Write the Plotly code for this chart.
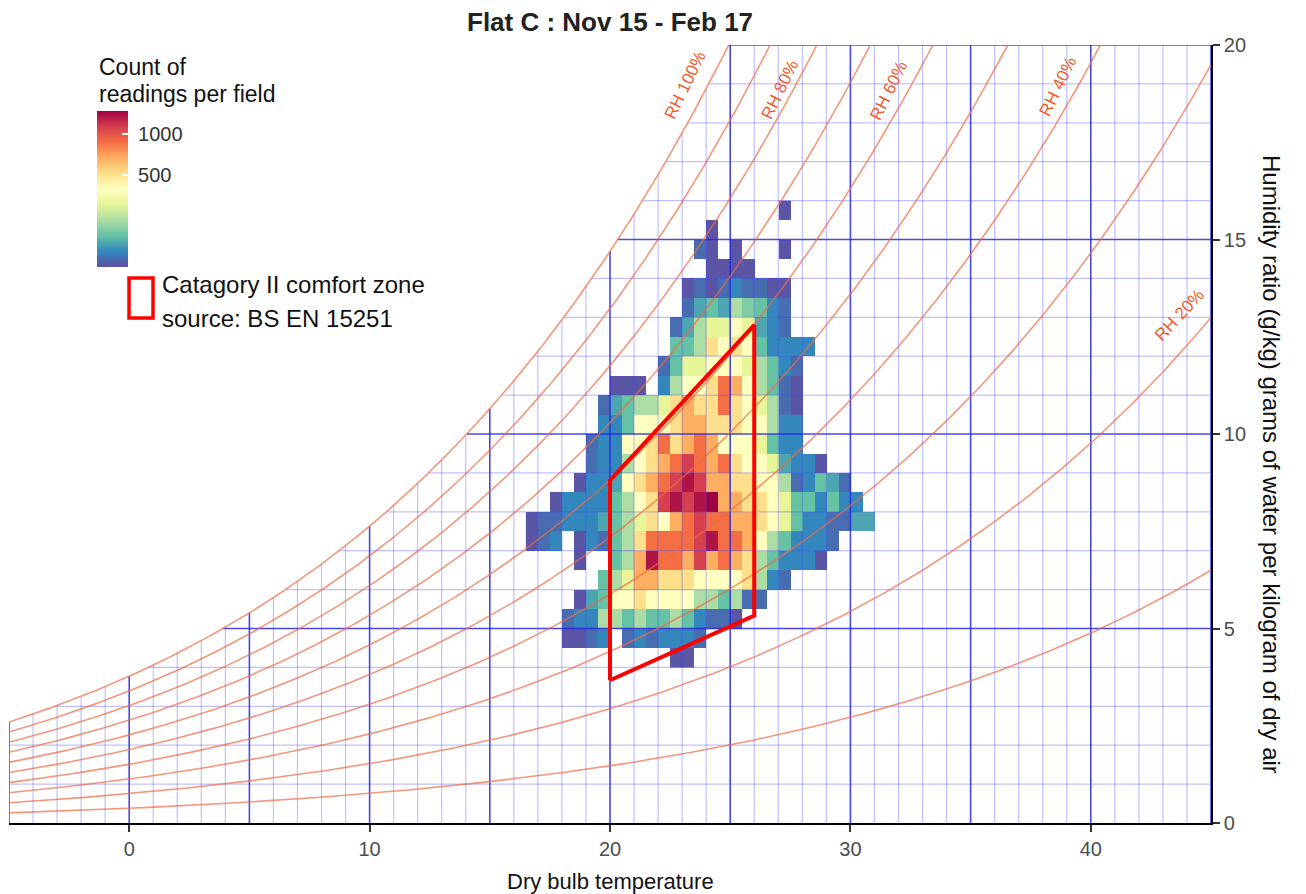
import numpy as np
import plotly.graph_objects as go

# ------------------------------------------------------------------ data
title_text = "Flat C : Nov 15 - Feb 17"

# bin centres (0.5 degC x 0.5 g/kg bins)
temp_bins = [16.75, 17.25, 17.75, 18.25, 18.75, 19.25, 19.75, 20.25, 20.75, 21.25,
             21.75, 22.25, 22.75, 23.25, 23.75, 24.25, 24.75, 25.25, 25.75, 26.25,
             26.75, 27.25, 27.75, 28.25, 28.75, 29.25, 29.75, 30.25, 30.75]
ratio_bins = [4.25, 4.75, 5.25, 5.75, 6.25, 6.75, 7.25, 7.75, 8.25, 8.75, 9.25, 9.75,
              10.25, 10.75, 11.25, 11.75, 12.25, 12.75, 13.25, 13.75, 14.25, 14.75,
              15.25, 15.75]

_ = None
# count of readings per field, one list per humidity-ratio bin
w4_0 = [_,_,_,_,_,_,_,_,_,_,_,_,4,4,_,_,_,_,_,_,_,_,_,_,_,_,_,_,_]
w4_5 = [_,_,_,4,4,12,26,_,12,26,12,26,26,26,12,_,_,_,_,_,_,_,_,_,_,_,_,_,_]
w5_0 = [_,_,_,12,26,26,150,150,75,150,75,75,150,75,26,12,12,4,_,_,_,_,_,_,_,_,_,_,_]
w5_5 = [_,_,_,_,4,48,75,370,370,520,370,370,370,370,150,150,75,150,12,12,_,_,_,_,_,_,_,_,_]
w6_0 = [_,_,_,_,_,_,75,150,248,690,690,520,520,520,370,370,370,370,520,150,26,12,_,_,_,_,_,_,_]
w6_5 = [_,_,_,_,4,_,_,75,150,690,1280,885,885,690,1105,690,885,690,520,150,75,26,26,26,4,_,_,_,_]
w7_0 = [4,12,26,_,4,26,12,75,150,520,885,885,885,885,1105,1280,885,885,690,370,150,75,26,26,26,12,_,_,_]
w7_5 = [4,12,12,26,26,26,48,75,150,248,520,370,690,885,1105,885,885,690,690,520,370,248,75,26,26,12,12,48,48]
w8_0 = [_,_,4,26,26,26,26,75,150,370,520,1105,1280,1105,1280,1358,690,690,520,520,370,248,75,75,26,75,26,26,_]
w8_5 = [_,_,_,_,4,26,26,48,370,520,690,885,1105,1280,1105,690,690,520,520,370,370,150,12,26,75,48,12,_,_]
w9_0 = [_,_,_,_,_,12,26,26,150,370,520,690,885,1105,885,690,885,520,370,370,248,48,26,26,4,_,_,_,_]
w9_5 = [_,_,_,_,_,12,26,26,370,370,520,885,520,690,885,690,370,370,370,248,75,26,26,_,_,_,_,_,_]
w10_0 = [_,_,_,_,_,_,26,26,75,370,370,370,520,690,690,520,520,520,370,370,150,26,26,_,_,_,_,_,_]
w10_5 = [_,_,_,_,_,_,12,48,75,150,150,248,520,690,520,520,885,520,370,248,150,12,4,_,_,_,_,_,_]
w11_0 = [_,_,_,_,_,_,_,4,4,4,_,26,150,370,370,520,885,690,370,150,75,12,4,_,_,_,_,_,_]
w11_5 = [_,_,_,_,_,_,_,_,_,_,_,12,75,248,248,370,370,370,248,150,75,26,12,_,_,_,_,_,_]
w12_0 = [_,_,_,_,_,_,_,_,_,_,_,_,75,75,150,520,370,520,370,75,26,26,26,26,_,_,_,_,_]
w12_5 = [_,_,_,_,_,_,_,_,_,_,_,_,12,48,150,248,248,370,248,48,26,12,_,_,_,_,_,_,_]
w13_0 = [_,_,_,_,_,_,_,_,_,_,_,_,_,12,48,75,48,150,100,75,26,12,_,_,_,_,_,_,_]
w13_5 = [_,_,_,_,_,_,_,_,_,_,_,_,_,4,12,4,12,26,12,12,4,4,_,_,_,_,_,_,_]
w14_0 = [_,_,_,_,_,_,_,_,_,_,_,_,_,_,_,4,4,4,4,_,_,_,_,_,_,_,_,_,_]
w14_5 = [_,_,_,_,_,_,_,_,_,_,_,_,_,_,12,4,_,4,_,_,_,4,_,_,_,_,_,_,_]
w15_0 = [_,_,_,_,_,_,_,_,_,_,_,_,_,_,_,4,_,_,_,_,_,_,_,_,_,_,_,_,_]
w15_5 = [_,_,_,_,_,_,_,_,_,_,_,_,_,_,_,_,_,_,_,_,_,4,_,_,_,_,_,_,_]

counts = [w4_0, w4_5, w5_0, w5_5, w6_0, w6_5, w7_0, w7_5, w8_0, w8_5, w9_0, w9_5,
          w10_0, w10_5, w11_0, w11_5, w12_0, w12_5, w13_0, w13_5, w14_0, w14_5,
          w15_0, w15_5]

# comfort zone polygon (Category II, BS EN 15251)
comfort_temp = [20, 20, 26, 26, 20]
comfort_ratio = [3.67, 8.81, 12.8, 5.33, 3.67]

rh_levels = [10, 20, 30, 40, 50, 60, 70, 80, 90, 100]
rh_label_text = ["RH 100%", "RH 80%", "RH 60%", "RH 40%", "RH 20%"]
rh_label_temp = [23.12, 27.07, 31.6, 38.63, 43.67]
rh_label_ratio = [18.96, 18.86, 18.83, 18.94, 13.05]
rh_label_angle = [-64, -64, -64, -64, -47]

colorbar_ticks = [500, 1000]
count_min, count_max = 2.7, 1358
x_ticks = [0, 10, 20, 30, 40]
y_ticks = [0, 5, 10, 15, 20]

# ------------------------------------------------------------------ layout helpers
# the page body adds an 8 px offset, so the figure is 8 px smaller than the window
OFF = 8
W, H = 1306 - OFF, 894 - OFF
PL, PR, PT, PB = 9, 1211, 45, 823          # plot-area box in screenshot pixels


def px(xp):
    return (xp - PL) / (PR - PL)


def py(yp):
    return (PB - yp) / (PB - PT)


FONT = "Liberation Sans, Arial, sans-serif"

# psychrometric relations
P_ATM = 101.325


def p_sat(t):
    return 0.61078 * np.exp(17.27 * t / (t + 237.3))


def w_sat(t):
    ps = p_sat(t)
    return 622 * ps / (P_ATM - ps)


def t_dew(w):
    pw = w * P_ATM / (622 + w)
    L = np.log(pw / 0.61078)
    return 237.3 * L / (17.27 - L)


fig = go.Figure()

# ------------------------------------------------------------------ heatmap
z = [[None if v is None else float(np.sqrt(v)) for v in row] for row in counts]
fig.add_trace(go.Heatmap(
    x=temp_bins, y=ratio_bins, z=z,
    colorscale="Spectral", reversescale=True,
    zmin=np.sqrt(count_min), zmax=np.sqrt(count_max),
    hoverinfo="skip",
    colorbar=dict(
        x=px(97), xref="paper", xanchor="left",
        y=py(189), yref="paper", yanchor="middle",
        len=156, lenmode="pixels", thickness=31, thicknessmode="pixels",
        outlinewidth=0, xpad=0, ypad=0,
        tickvals=[float(np.sqrt(v)) for v in colorbar_ticks],
        ticktext=["\u00a0" + str(v) for v in colorbar_ticks],
        ticks="inside", ticklen=6, tickwidth=1.5, tickcolor="white",
        tickfont=dict(family=FONT, size=20, color="#333333"),
    ),
))

# ------------------------------------------------------------------ grid
light_x, light_y, bold_x, bold_y = [], [], [], []
for t in range(-5, 46):
    top = min(w_sat(t), 20)
    xs, ys = (bold_x, bold_y) if t % 5 == 0 else (light_x, light_y)
    xs += [t, t, None]
    ys += [0, top, None]
for w in range(1, 21):
    x0 = max(t_dew(w), -5)
    xs, ys = (bold_x, bold_y) if w % 5 == 0 else (light_x, light_y)
    xs += [x0, 45, None]
    ys += [w, w, None]

fig.add_trace(go.Scatter(x=light_x, y=light_y, mode="lines", hoverinfo="skip",
                         line=dict(color="rgba(70,70,255,0.34)", width=1.2), showlegend=False))
fig.add_trace(go.Scatter(x=bold_x, y=bold_y, mode="lines", hoverinfo="skip",
                         line=dict(color="rgba(40,40,225,0.85)", width=1.6), showlegend=False))

# ------------------------------------------------------------------ RH curves
t_line = np.linspace(-5, 45, 501)
for rh in rh_levels:
    fig.add_trace(go.Scatter(
        x=t_line, y=rh / 100 * w_sat(t_line), mode="lines", hoverinfo="skip",
        line=dict(color="rgba(240,105,65,0.7)", width=1.6), showlegend=False))

# ------------------------------------------------------------------ comfort zone
fig.add_trace(go.Scatter(x=comfort_temp, y=comfort_ratio, mode="lines", hoverinfo="skip",
                         line=dict(color="#ff0000", width=4), showlegend=False))

# ------------------------------------------------------------------ annotations
ann = []
for txt, tx, ty, ang in zip(rh_label_text, rh_label_temp, rh_label_ratio, rh_label_angle):
    ann.append(dict(x=tx, y=ty, xref="x", yref="y", text=txt, showarrow=False,
                    textangle=ang, font=dict(family=FONT, size=17, color="#f05a2a")))

ann += [
    dict(x=px(97), y=py(67), xref="paper", yref="paper", text="Count of",
         xanchor="left", yanchor="middle", showarrow=False,
         font=dict(family=FONT, size=23, color="#111111")),
    dict(x=px(97), y=py(94), xref="paper", yref="paper", text="readings per field",
         xanchor="left", yanchor="middle", showarrow=False,
         font=dict(family=FONT, size=23, color="#111111")),
    dict(x=px(160), y=py(284), xref="paper", yref="paper", text="Catagory II comfort zone",
         xanchor="left", yanchor="middle", showarrow=False,
         font=dict(family=FONT, size=24, color="#111111")),
    dict(x=px(160), y=py(318), xref="paper", yref="paper", text="source: BS EN 15251",
         xanchor="left", yanchor="middle", showarrow=False,
         font=dict(family=FONT, size=24, color="#111111")),
    dict(x=px(1272), y=py(464), xref="paper", yref="paper",
         text="Humidity ratio (g/kg) grams of water per kilogram of dry air",
         textangle=90, xanchor="center", yanchor="middle", showarrow=False,
         font=dict(family=FONT, size=24, color="#111111")),
    dict(x=0.5, y=py(881), xref="paper", yref="paper", text="Dry bulb temperature",
         xanchor="center", yanchor="middle", showarrow=False,
         font=dict(family=FONT, size=22, color="#111111")),
    dict(x=0.5, y=py(22), xref="paper", yref="paper", text="<b>" + title_text + "</b>",
         xanchor="center", yanchor="middle", showarrow=False,
         font=dict(family=FONT, size=26, color="#222222")),
]

shapes = [dict(type="rect", xref="paper", yref="paper",
               x0=px(129), x1=px(153), y0=py(318), y1=py(278),
               line=dict(color="#ff0000", width=3.5), fillcolor="rgba(0,0,0,0)")]

fig.update_layout(
    width=W, height=H, autosize=False,
    margin=dict(l=PL - OFF, r=W - (PR - OFF), t=PT - OFF, b=H - (PB - OFF), pad=0, autoexpand=False),
    paper_bgcolor="white", plot_bgcolor="white",
    showlegend=False,
    annotations=ann, shapes=shapes,
    xaxis=dict(range=[-5, 45], tickvals=x_ticks, showgrid=False, zeroline=False,
               showline=True, linecolor="black", linewidth=1.6,
               ticks="outside", ticklen=7, tickwidth=1.5, tickcolor="#333333",
               tickfont=dict(family=FONT, size=20, color="#4d4d4d")),
    yaxis=dict(range=[0, 20], tickvals=y_ticks, side="right", showgrid=False, zeroline=False,
               showline=True, linecolor="black", linewidth=1.6,
               ticks="outside", ticklen=7, tickwidth=1.5, tickcolor="#333333",
               tickfont=dict(family=FONT, size=20, color="#4d4d4d")),
)

fig.write_html("out.html")
